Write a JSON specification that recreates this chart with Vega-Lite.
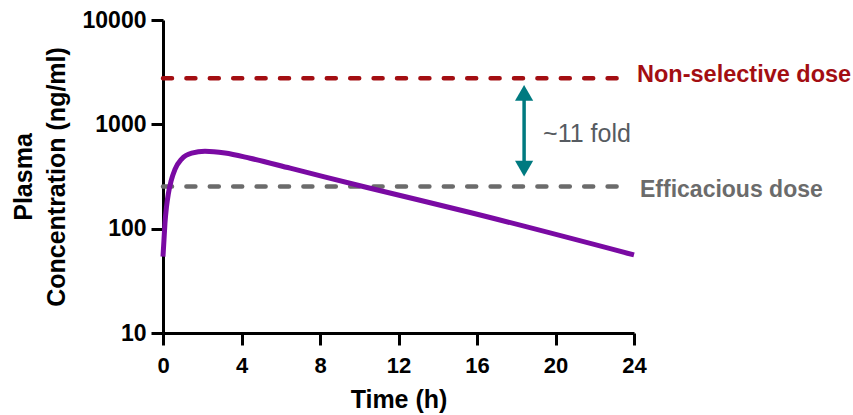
{
  "$schema": "https://vega.github.io/schema/vega-lite/v6.json",
  "width": 471,
  "height": 313,
  "autosize": {"type": "none"},
  "padding": {"left": 163, "top": 20, "right": 219, "bottom": 82},
  "background": "white",
  "config": {
    "view": {"stroke": null},
    "font": "Liberation Sans",
    "axis": {
      "grid": false,
      "domainColor": "black",
      "domainWidth": 3,
      "tickColor": "black",
      "tickWidth": 3,
      "tickSize": 12,
      "labelFont": "Liberation Sans",
      "labelFontSize": 22,
      "labelFontWeight": "bold",
      "labelColor": "black",
      "titleFont": "Liberation Sans",
      "titleFontSize": 25,
      "titleFontWeight": "bold",
      "titleColor": "black"
    }
  },
  "datasets": {
    "curve": [
      {"t": 0, "conc": 54},
      {"t": 0.05, "conc": 78},
      {"t": 0.1, "conc": 113},
      {"t": 0.18, "conc": 163},
      {"t": 0.27, "conc": 215},
      {"t": 0.41, "conc": 285},
      {"t": 0.61, "conc": 370},
      {"t": 0.95, "conc": 465},
      {"t": 1.46, "conc": 529},
      {"t": 2.14, "conc": 552},
      {"t": 3.16, "conc": 531},
      {"t": 4.44, "conc": 473},
      {"t": 6.48, "conc": 380},
      {"t": 10.4, "conc": 248},
      {"t": 15.65, "conc": 143},
      {"t": 24, "conc": 56}
    ],
    "doses": [
      {"dose": "Non-selective dose", "conc": 2770, "start": 0, "end": 23.4},
      {"dose": "Efficacious dose", "conc": 253, "start": 0, "end": 23.4}
    ],
    "fold": [
      {"t": 18.4, "lo": 377, "hi": 2000, "mid": 800, "label": "~11 fold"}
    ]
  },
  "layer": [
    {
      "data": {"name": "doses"},
      "mark": {"type": "rule", "strokeWidth": 4.5, "strokeDash": [9, 14.4], "strokeCap": "round"},
      "encoding": {
        "x": {"field": "start", "type": "quantitative", "scale": {"domain": [0, 24], "nice": false, "zero": false},
              "axis": {"values": [0, 4, 8, 12, 16, 20, 24], "title": "Time (h)", "labelPadding": 10, "titlePadding": 11, "labelFlush": false}},
        "x2": {"field": "end"},
        "y": {"field": "conc", "type": "quantitative", "scale": {"type": "log", "domain": [10, 10000], "nice": false},
              "axis": {"values": [10, 100, 1000, 10000], "format": "d", "title": ["Plasma", "Concentration (ng/ml)"], "titleLineHeight": 33, "labelPadding": 5, "labelFontSize": 23, "titlePadding": 13, "labelFlush": false}},
        "color": {"field": "dose", "type": "nominal", "scale": {"domain": ["Non-selective dose", "Efficacious dose"], "range": ["#a30e12", "#6b6b6b"]}, "legend": null}
      }
    },
    {
      "data": {"name": "doses"},
      "transform": [{"filter": "datum.dose == 'Non-selective dose'"}],
      "mark": {"type": "text", "align": "left", "baseline": "middle", "fontSize": 23.5, "fontWeight": "bold", "dx": 3, "dy": -3},
      "encoding": {
        "x": {"datum": 24, "type": "quantitative"},
        "y": {"field": "conc", "type": "quantitative"},
        "text": {"field": "dose"},
        "color": {"field": "dose", "type": "nominal", "legend": null}
      }
    },
    {
      "data": {"name": "doses"},
      "transform": [{"filter": "datum.dose == 'Efficacious dose'"}],
      "mark": {"type": "text", "align": "left", "baseline": "middle", "fontSize": 23, "fontWeight": "bold", "dx": 6, "dy": 3},
      "encoding": {
        "x": {"datum": 24, "type": "quantitative"},
        "y": {"field": "conc", "type": "quantitative"},
        "text": {"field": "dose"},
        "color": {"field": "dose", "type": "nominal", "legend": null}
      }
    },
    {
      "data": {"name": "curve"},
      "mark": {"type": "line", "color": "#7a0aa3", "strokeWidth": 5, "interpolate": "monotone"},
      "encoding": {
        "x": {"field": "t", "type": "quantitative"},
        "y": {"field": "conc", "type": "quantitative"}
      }
    },
    {
      "data": {"name": "fold"},
      "mark": {"type": "rule", "color": "#007a80", "strokeWidth": 3.5},
      "encoding": {
        "x": {"field": "t", "type": "quantitative"},
        "y": {"field": "lo", "type": "quantitative"},
        "y2": {"field": "hi"}
      }
    },
    {
      "data": {"name": "fold"},
      "mark": {"type": "point", "shape": "triangle-up", "filled": true, "size": 330, "color": "#007a80", "opacity": 1},
      "encoding": {
        "x": {"field": "t", "type": "quantitative"},
        "y": {"field": "hi", "type": "quantitative"}
      }
    },
    {
      "data": {"name": "fold"},
      "mark": {"type": "point", "shape": "triangle-down", "filled": true, "size": 330, "color": "#007a80", "opacity": 1},
      "encoding": {
        "x": {"field": "t", "type": "quantitative"},
        "y": {"field": "lo", "type": "quantitative"}
      }
    },
    {
      "data": {"name": "fold"},
      "mark": {"type": "text", "align": "left", "baseline": "middle", "fontSize": 25, "color": "#565b61", "dx": 19},
      "encoding": {
        "x": {"field": "t", "type": "quantitative"},
        "y": {"field": "mid", "type": "quantitative"},
        "text": {"field": "label"}
      }
    }
  ]
}
